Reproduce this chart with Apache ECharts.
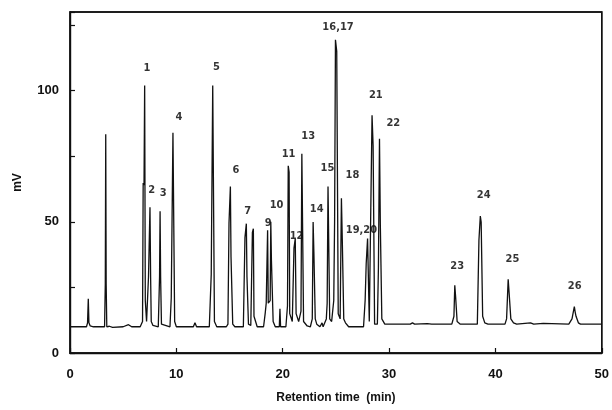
<!DOCTYPE html>
<html>
<head>
<meta charset="utf-8">
<script src="https://cdn.jsdelivr.net/npm/echarts@6/dist/echarts.min.js"></script>
<style>
  html, body { margin: 0; padding: 0; background: #fff; }
  #chart { width: 612px; height: 410px; }
</style>
</head>
<body>
<div id="chart"></div>
<script>
// Detector trace: retention time (min) and signal (mV), point by point
const traceTime = [
  0, 1.55, 1.65, 1.72, 1.78, 1.9, 2.2, 3.25, 3.32, 3.36, 3.40, 3.46, 3.7, 4.0, 5.0, 5.5, 5.8,
  6.6, 6.82, 6.88, 6.96, 7.02, 7.08, 7.2, 7.38, 7.44, 7.48, 7.52, 7.58, 7.64, 7.8, 8.3, 8.42,
  8.47, 8.52, 8.6, 9.4, 9.52, 9.62, 9.68, 9.78, 9.84, 10.0, 11.6, 11.75, 11.9, 13.1, 13.28,
  13.36, 13.42, 13.52, 13.58, 13.8, 14.7, 14.85, 14.95, 15.02, 15.08, 15.14, 15.24, 15.3,
  15.5, 16.3, 16.45, 16.52, 16.58, 16.64, 16.72, 16.78, 17.0, 17.15, 17.24, 17.3, 17.45,
  17.6, 18.2, 18.35, 18.45, 18.52, 18.58, 18.64, 18.82, 18.88, 18.94, 19.04, 19.1, 19.3,
  19.68, 19.74, 19.8, 20.3, 20.45, 20.52, 20.6, 20.66, 20.9, 21.06, 21.12, 21.18, 21.26,
  21.5, 21.72, 21.8, 21.9, 21.96, 22.3, 22.6, 22.78, 22.86, 22.93, 23.0, 23.06, 23.2, 23.5,
  23.7, 23.8, 24.1, 24.18, 24.26, 24.36, 24.42, 24.6, 24.8, 24.88, 24.96, 25.08, 25.16,
  25.22, 25.4, 25.52, 25.6, 25.68, 25.74, 25.9, 26.2, 27.6, 27.75, 27.85, 27.92, 27.98,
  28.06, 28.14, 28.3, 28.4, 28.5, 28.58, 28.64, 28.9, 29.0, 29.1, 29.18, 29.26, 29.32,
  29.6, 30.0, 32.0, 32.2, 32.4, 33.6, 34.0, 35.9, 36.1, 36.18, 36.26, 36.32, 36.4, 36.7,
  38.3, 38.45, 38.52, 38.58, 38.66, 38.72, 38.8, 39.0, 39.3, 40.9, 41.05, 41.2, 41.28,
  41.34, 41.45, 41.7, 42.0, 43.3, 43.6, 44.5, 46.9, 47.2, 47.42, 47.5, 47.58, 47.8, 48.0, 50
];
const traceMv = [
  10, 10, 11.5, 20.7, 11.5, 10.3, 10, 10, 26.5, 83.4, 26.5, 10, 10.2, 9.8, 10, 10.8, 10,
  10, 12, 64.8, 64, 102, 20, 12, 29, 40.4, 40, 55.6, 29, 12, 10.5, 10, 29,
  54, 29, 11, 10, 21, 21, 84, 84, 12, 10, 10, 11.5, 10, 10, 30,
  30, 102, 102, 12, 10, 10, 11, 49.5, 49.5, 63.5, 36.6, 36.6, 11,
  10, 10, 44, 44, 49.3, 29, 29, 11, 10.5, 46, 47.4, 14, 12,
  10, 10, 15, 19, 19, 46.8, 19, 20, 50, 35.3, 35.3, 12, 10,
  10, 16.9, 10, 10, 18, 71.4, 69, 15, 12, 40, 40, 43.6, 15,
  12, 16, 76, 76, 12, 10.3, 10, 13, 49.9, 38.5, 38.5, 13, 11, 10,
  11.5, 10, 13, 19, 63.5, 63.5, 13, 12, 20, 50.6, 119.4, 115, 115,
  15, 13, 59, 43.6, 43.6, 13, 11.5, 10, 10, 20, 34, 34, 43.6,
  43.6, 12, 12, 90.6, 79, 79, 11, 11, 32.7, 81.7, 48.7, 48.7, 13,
  11, 11, 11, 11.5, 11, 11.2, 11, 11, 14, 25.8, 21.3, 21.3, 12, 11,
  11, 43, 43, 52.2, 49.9, 49.9, 14, 11.5, 11, 11, 13, 28.1, 23.4,
  23.4, 13, 11.5, 11, 11.5, 11, 11.3, 11, 13, 17.7, 15.6, 14, 11.5, 11, 11
];

// Peak numbers and where each one is written (time, mV)
const peakLabels = ['1', '2', '3', '4', '5', '6', '7', '9', '10', '11', '12', '13', '14',
  '15', '16,17', '18', '19,20', '21', '22', '23', '24', '25', '26'];
const labelTime = [7.24, 7.68, 8.77, 10.24, 13.78, 15.6, 16.7, 18.64, 19.42, 20.55, 21.3,
  22.4, 23.2, 24.2, 25.2, 26.56, 27.4, 28.76, 30.4, 36.4, 38.9, 41.6, 47.46];
const labelMv = [108.6, 62.2, 61, 89.8, 108.8, 69.9, 54, 49.5, 56.5, 76, 44.5,
  82.7, 55, 70.3, 124.3, 67.7, 47, 98.3, 87.7, 33, 60, 35.6, 25.4];

// Axis ticks
const xTicks = [0, 10, 20, 30, 40, 50];
const yTickLabels = [0, 50, 100];
const yMax = 130;

const trace = traceTime.map((t, i) => [t, traceMv[i]]);
const labelPoints = labelTime.map((t, i) => ({ value: [t, labelMv[i]], name: peakLabels[i] }));

const font = 'Liberation Sans';
const ink = '#111';
const xMin = xTicks[0], xMax = xTicks[xTicks.length - 1];

const chart = echarts.init(document.getElementById('chart'), null, { renderer: 'canvas' });
chart.setOption({
  animation: false,
  backgroundColor: '#fff',
  grid: {
    left: 70, right: 10, top: 12, bottom: 57,
    show: true, borderColor: ink, borderWidth: 1.4, backgroundColor: 'rgba(0,0,0,0)'
  },
  xAxis: {
    type: 'value',
    min: xMin, max: xMax, interval: 10,
    name: 'Retention time  (min)',
    nameLocation: 'middle', nameGap: 39,
    nameTextStyle: { fontFamily: font, fontWeight: 'bold', fontSize: 12, color: ink },
    axisLine: { show: true, onZero: false, lineStyle: { color: ink, width: 1.4 } },
    axisTick: { show: true, inside: true, length: 5, lineStyle: { color: ink, width: 1.2 } },
    axisLabel: { fontFamily: font, fontWeight: 'bold', fontSize: 13, color: ink, margin: 15 },
    splitLine: { show: false }
  },
  yAxis: {
    type: 'value',
    min: 0, max: yMax, interval: 25,
    name: 'mV',
    nameLocation: 'middle', nameGap: 46, nameRotate: 90,
    nameTextStyle: { fontFamily: font, fontWeight: 'bold', fontSize: 12, color: ink },
    axisLine: { show: true, lineStyle: { color: ink, width: 1.4 } },
    axisTick: { show: true, inside: true, length: 5, lineStyle: { color: ink, width: 1.2 } },
    axisLabel: {
      fontFamily: font, fontWeight: 'bold', fontSize: 13, color: ink, margin: 11,
      formatter: v => (yTickLabels.indexOf(v) >= 0 ? String(v) : '')
    },
    splitLine: { show: false }
  },
  series: [
    {
      type: 'line',
      data: trace,
      symbol: 'none',
      clip: false,
      lineStyle: { color: ink, width: 1.3 },
      silent: true,
      // plot frame, spanning the full axis ranges
      markArea: {
        silent: true,
        itemStyle: { color: 'rgba(0,0,0,0)', borderColor: ink, borderWidth: 1.4 },
        data: [[{ xAxis: xMin, yAxis: 0 }, { xAxis: xMax, yAxis: yMax }]]
      }
    },
    {
      type: 'scatter',
      data: labelPoints,
      symbolSize: 0,
      silent: true,
      label: {
        show: true, position: 'inside',
        formatter: p => p.name,
        fontFamily: 'DejaVu Sans Condensed', fontWeight: 'bold', fontSize: 11, color: '#000'
      }
    }
  ]
});
</script>
</body>
</html>
